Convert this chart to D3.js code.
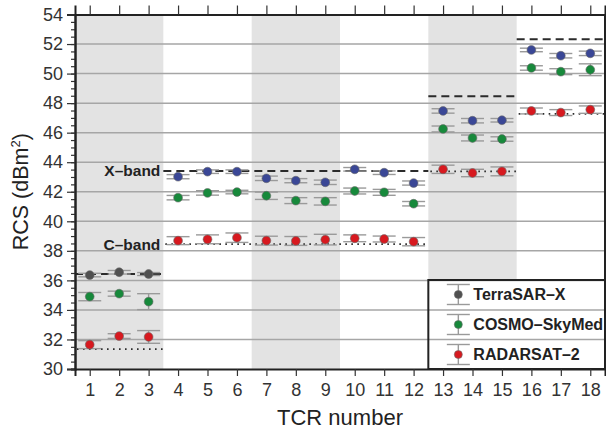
<!DOCTYPE html>
<html>
<head>
<meta charset="utf-8">
<script src="https://cdn.jsdelivr.net/npm/d3@7"></script>
<style>
  body { margin: 0; background: #fff; }
  svg { font-family: "Liberation Sans", Arial, Helvetica, sans-serif; }
</style>
</head>
<body>
<div id="chart"></div>
<script>

// TCR numbers along x
const tcr = [1, 2, 3, 4, 5, 6, 7, 8, 9, 10, 11, 12, 13, 14, 15, 16, 17, 18];

// mean RCS (dBm2) and error half-widths per sensor
const tsx    = [36.36, 36.55, 36.43, 43.02, 43.36, 43.36, 42.91, 42.75, 42.64, 43.52, 43.29, 42.59, 47.47, 46.81, 46.84, 51.60, 51.21, 51.37];
const tsxErr = [0.12, 0.12, 0.10, 0.14, 0.12, 0.12, 0.15, 0.14, 0.15, 0.12, 0.12, 0.14, 0.15, 0.15, 0.12, 0.12, 0.15, 0.15];
const csk    = [34.90, 35.10, 34.56, 41.60, 41.92, 41.98, 41.73, 41.40, 41.35, 42.05, 41.96, 41.19, 46.25, 45.64, 45.57, 50.38, 50.13, 50.26];
const cskErr = [0.28, 0.17, 0.54, 0.15, 0.15, 0.12, 0.25, 0.20, 0.25, 0.20, 0.20, 0.15, 0.20, 0.20, 0.15, 0.15, 0.20, 0.40];
const rs2    = [31.65, 32.23, 32.17, 38.69, 38.78, 38.89, 38.69, 38.67, 38.76, 38.85, 38.80, 38.62, 43.52, 43.27, 43.38, 47.47, 47.36, 47.56];
const rs2Err = [0.27, 0.16, 0.43, 0.27, 0.30, 0.32, 0.30, 0.30, 0.36, 0.23, 0.20, 0.28, 0.28, 0.25, 0.30, 0.20, 0.20, 0.25];

// TerraSAR-X points drawn in grey for these TCRs, blue elsewhere
const tsxGrey = [1, 2, 3];

// theoretical RCS per reflector group (X-band dashed, C-band dotted)
const groupStart = [0.5, 3.5, 12.5, 15.5];
const groupEnd   = [3.5, 12.5, 15.5, 18.5];
const xBandLevel = [36.43, 43.40, 48.46, 52.32];
const cBandLevel = [31.35, 38.45, 43.38, 47.27];

// shaded TCR blocks
const shadeStart = [0.5, 6.5, 12.5];
const shadeEnd   = [3.5, 9.5, 15.5];

const yTicks = d3.range(30, 55, 2);
const legendNames = ["TerraSAR\u2013X", "COSMO\u2013SkyMed", "RADARSAT\u20132"];
const colors = { grey: "#505050", blue: "#3a4796", green: "#17893b", red: "#d7191f" };

const width = 606, height = 430;
const margin = { top: 14.5, right: 1, bottom: 61, left: 75 };

const x = d3.scaleLinear().domain([0.5, 18.5]).range([margin.left, width - margin.right]);
const y = d3.scaleLinear().domain([30, 54]).range([height - margin.bottom, margin.top]);

const svg = d3.select("#chart").append("svg")
  .attr("width", width)
  .attr("height", height);

// grey blocks
svg.append("g")
  .selectAll("rect")
  .data(shadeStart)
  .join("rect")
  .attr("x", d => x(d))
  .attr("y", y(54))
  .attr("width", (d, i) => x(shadeEnd[i]) - x(d))
  .attr("height", y(30) - y(54))
  .attr("fill", "#e3e3e3");

// legend background sits under the grid
const legX0 = x(12.5), legX1 = x(18.5), legY0 = 280, legY1 = y(30);
svg.append("rect")
  .attr("x", legX0).attr("y", legY0)
  .attr("width", legX1 - legX0).attr("height", legY1 - legY0)
  .attr("fill", "#fff");

// horizontal grid
svg.append("g")
  .selectAll("line")
  .data(yTicks.filter(d => d > 30 && d < 54))
  .join("line")
  .attr("x1", x(0.5)).attr("x2", x(18.5))
  .attr("y1", d => y(d)).attr("y2", d => y(d))
  .attr("stroke", "#a6a6a6")
  .attr("stroke-width", 1.5);

// reference levels
const refs = svg.append("g");
refs.selectAll("line.xband")
  .data(xBandLevel)
  .join("line")
  .attr("class", "xband")
  .attr("x1", (d, i) => x(groupStart[i])).attr("x2", (d, i) => x(groupEnd[i]))
  .attr("y1", d => y(d)).attr("y2", d => y(d))
  .attr("stroke", "#2b2b2b")
  .attr("stroke-width", 2)
  .attr("stroke-dasharray", "8,5");
refs.selectAll("line.cband")
  .data(cBandLevel)
  .join("line")
  .attr("class", "cband")
  .attr("x1", (d, i) => x(groupStart[i]) + 2).attr("x2", (d, i) => x(groupEnd[i]))
  .attr("y1", d => y(d)).attr("y2", d => y(d))
  .attr("stroke", "#2b2b2b")
  .attr("stroke-width", 1.8)
  .attr("stroke-dasharray", "1.6,4.4");

refs.selectAll("text")
  .data([["X\u2013band", xBandLevel[1]], ["C\u2013band", cBandLevel[1]]])
  .join("text")
  .attr("x", x(3.5) - 3).attr("y", d => y(d[1]))
  .attr("dy", "0.35em")
  .attr("text-anchor", "end")
  .attr("font-size", 15.5).attr("font-weight", "bold").attr("fill", "#222")
  .text(d => d[0]);

// one table of rows for the error bars and points
const rows = [];
tcr.forEach((t, i) => {
  rows.push({ t, v: tsx[i], e: tsxErr[i], c: tsxGrey.includes(t) ? colors.grey : colors.blue });
  rows.push({ t, v: csk[i], e: cskErr[i], c: colors.green });
  rows.push({ t, v: rs2[i], e: rs2Err[i], c: colors.red });
});

const capW = 11.5;
const bars = svg.append("g")
  .attr("stroke", "#9a9a9a")
  .attr("stroke-width", 1.4);
bars.selectAll("line.stem")
  .data(rows)
  .join("line")
  .attr("class", "stem")
  .attr("x1", d => x(d.t)).attr("x2", d => x(d.t))
  .attr("y1", d => y(d.v - d.e)).attr("y2", d => y(d.v + d.e));
bars.selectAll("line.top")
  .data(rows)
  .join("line")
  .attr("class", "top")
  .attr("x1", d => x(d.t) - capW).attr("x2", d => x(d.t) + capW)
  .attr("y1", d => y(d.v + d.e)).attr("y2", d => y(d.v + d.e));
bars.selectAll("line.bot")
  .data(rows)
  .join("line")
  .attr("class", "bot")
  .attr("x1", d => x(d.t) - capW).attr("x2", d => x(d.t) + capW)
  .attr("y1", d => y(d.v - d.e)).attr("y2", d => y(d.v - d.e));

svg.append("g")
  .selectAll("circle")
  .data(rows)
  .join("circle")
  .attr("cx", d => x(d.t))
  .attr("cy", d => y(d.v))
  .attr("r", 4.4)
  .attr("fill", d => d.c)
  .attr("stroke", "#6a6a6a")
  .attr("stroke-width", 0.6);

// legend
const legend = svg.append("g");
legend.append("rect")
  .attr("x", legX0).attr("y", legY0)
  .attr("width", legX1 - legX0).attr("height", legY1 - legY0)
  .attr("fill", "none")
  .attr("stroke", "#222")
  .attr("stroke-width", 2);
const legItem = legend.selectAll("g.item")
  .data(legendNames)
  .join("g")
  .attr("class", "item")
  .attr("transform", (d, i) => `translate(${legX0 + 30},${294.5 + i * 30})`);
legItem.append("line")
  .attr("y1", -10).attr("y2", 10)
  .attr("stroke", "#9a9a9a").attr("stroke-width", 1.4);
legItem.append("line")
  .attr("x1", -capW).attr("x2", capW).attr("y1", -10).attr("y2", -10)
  .attr("stroke", "#9a9a9a").attr("stroke-width", 1.4);
legItem.append("line")
  .attr("x1", -capW).attr("x2", capW).attr("y1", 10).attr("y2", 10)
  .attr("stroke", "#9a9a9a").attr("stroke-width", 1.4);
legItem.append("circle")
  .attr("r", 4)
  .attr("fill", (d, i) => [colors.grey, colors.green, colors.red][i])
  .attr("stroke", "#6a6a6a").attr("stroke-width", 0.6);
legItem.append("text")
  .attr("x", 15).attr("dy", "0.36em")
  .attr("font-size", 16).attr("font-weight", "bold").attr("fill", "#222")
  .text(d => d);

// axes
const axisStyle = g => {
  g.attr("font-family", null);
  g.select(".domain").attr("stroke", "#222").attr("stroke-width", 2);
  g.selectAll(".tick line").attr("stroke", "#333").attr("stroke-width", 1.2);
  g.selectAll(".tick text").attr("fill", "#333").attr("font-size", 18);
};

svg.append("g")
  .attr("transform", `translate(${margin.left},0)`)
  .call(d3.axisLeft(y).tickValues(d3.range(30, 54.01, 0.5)).tickSize(4).tickFormat(""))
  .call(axisStyle);
svg.append("g")
  .attr("transform", `translate(${margin.left},0)`)
  .call(d3.axisLeft(y).tickValues(yTicks).tickSize(8).tickPadding(4))
  .call(axisStyle);

svg.append("g")
  .attr("transform", `translate(0,${y(30)})`)
  .call(d3.axisBottom(x).tickValues(tcr).tickSize(7).tickPadding(7).tickFormat(d3.format("d")))
  .call(axisStyle);

svg.append("g")
  .attr("transform", `translate(0,${y(54)})`)
  .call(d3.axisTop(x).tickValues(tcr).tickSize(9).tickFormat(""))
  .call(axisStyle);

svg.append("line")
  .attr("x1", x(18.5)).attr("x2", x(18.5))
  .attr("y1", y(54)).attr("y2", y(30))
  .attr("stroke", "#222").attr("stroke-width", 2);

// axis titles
svg.append("text")
  .attr("transform", `translate(28,${(y(30) + y(54)) / 2}) rotate(-90)`)
  .attr("text-anchor", "middle")
  .attr("font-size", 21.5).attr("fill", "#222")
  .html('RCS (dBm<tspan dy="-8" font-size="13">2</tspan><tspan dy="8">)</tspan>');

svg.append("text")
  .attr("x", (x(0.5) + x(18.5)) / 2)
  .attr("y", 425)
  .attr("text-anchor", "middle")
  .attr("font-size", 22).attr("fill", "#222")
  .text("TCR number");

</script>
</body>
</html>
